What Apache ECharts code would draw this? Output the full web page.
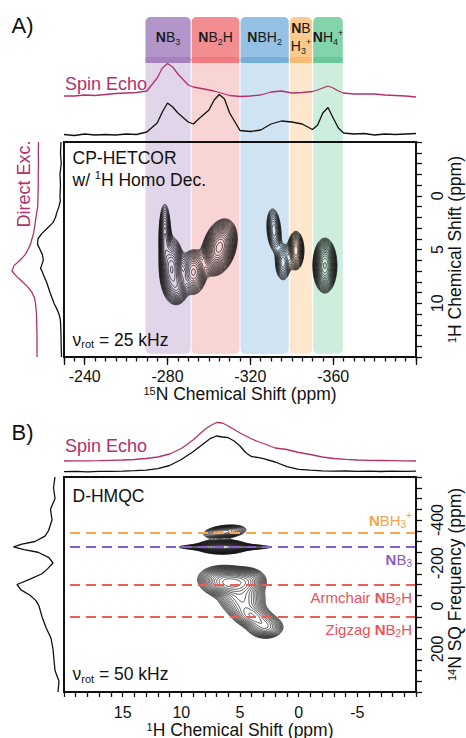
<!DOCTYPE html>
<html>
<head>
<meta charset="utf-8">
<script src="https://cdn.jsdelivr.net/npm/echarts@6.0.0/dist/echarts.min.js"></script>
<style>html,body{margin:0;padding:0;background:#fff;}#chart{width:466px;height:738px;}</style>
</head>
<body>
<div id="chart"></div>
<script>
const FONT = '"Liberation Sans", Arial, Helvetica, sans-serif';
const INK = '#111111';
const MAGENTA = '#b3306f';

// ================= Panel A =================
// top projections (15N ppm)
const aN15Ppm = [-230,-235,-240,-245,-250,-255,-260,-265,-270,-275,-277.5,-280,-282.5,-285,-290,-292.5,-295,-300,-302.5,-305,-307.5,-310,-315,-320,-325,-330,-335,-340,-345,-350,-352.5,-355,-357.5,-360,-362.5,-365,-370,-375,-380,-385,-390,-395,-400];
const aSpinEcho = [1,1,2,1.5,2.5,3.5,4,4.5,6,19,29,33.5,30,23,12,10,9,7,6,4.5,3,1.5,0.5,1,2,5,6,4,4.5,5.5,7,9,11,9,6,4,3,3,3,2,1.5,1,0];
const aCPHetcor = [0.5,-0.5,1,0,0.5,0,1,0.5,3,12,23,32,28,22,13,11,16,25,35,40.5,36,22,4.5,3.5,5,11,14,13,11,5.5,10,22,27.5,17,7,2,1,1.5,0,1,0.5,1,1.5];
// left projections (1H ppm)
const aH1PpmDE = [-5,-4,-3,-2,-1,0,1,2,3,3.5,4,4.5,5,5.5,6,6.5,7,7.5,8,8.5,9,9.5,10,11,12,13,14,15];
const aDirectExc = [0,0.2,0,0.3,0.2,0.5,0.8,2.5,4,5,6.5,8,10.5,13.5,18.5,24.5,26.5,22,16,10.5,6.5,4,3,2,1.8,1.5,1.5,1.5];
const aH1PpmCP = [-5,-4,-3,-2,-1,0,0.5,1,1.5,2,2.5,3,3.5,4,4.5,5,5.5,6,6.5,6.75,7,7.5,8,9,10,10.5,11,11.5,12,13,14,15];
const aCPproj = [0.5,1,0.3,1.5,1,1.5,1.2,2.5,4.5,6,8.5,14,19.5,23.5,24,21.5,19,18.2,20,21,19.5,17.5,15,11.5,7.5,4.8,2.5,1.2,0.8,0.5,0.3,0];
// tick labels
const aN15TickLabels = [-240,-280,-320,-360];
const aH1TickLabels = [0,5,10];
// assignment bands (15N ppm)
const bandLabels = ['{b|N}B{d|3}', '{b|N}B{d|2}H', '{b|N}BH{d|2}', '{b|N}B\nH{d|3}{u|+}', '{b|N}H{d|4}{u|+}'];
const bandFrom = [-269.1, -291.4, -315.0, -338.8, -350.1];
const bandTo   = [-291.4, -315.0, -338.8, -350.1, -364.9];
const bandHead  = ['#b396c9', '#f38e90', '#94c1e4', '#fbcb8f', '#84d4ab'];
const bandLip   = ['#a482bf', '#f07b7e', '#77afdb', '#f8bb75', '#66c996'];
const bandLight = ['#e1d5ea', '#f9d4d4', '#d0e3f2', '#fde7cd', '#cdeedc'];
// 2D correlation peaks (15N ppm, 1H ppm)
const aPkN   = [-282, -278.7, -285, -305, -292.5, -331.4, -335.8, -342, -356];
const aPkH   = [6.8, 3.8, 8.6, 4.8, 7.1, 3.2, 6.2, 5.1, 6.5];
const aPkWN  = [2.6, 1.5, 2.4, 3.6, 3.0, 1.9, 2.0, 1.85, 2.5];
const aPkWH  = [1.3, 1.6, 0.75, 1.1, 1.0, 1.1, 0.9, 0.85, 1.1];
const aPkAmp = [0.75, 0.35, 0.35, 1.1, 0.5, 0.3, 0.3, 0.55, 0.9];
const aPkRho = [0, 0, 0, 0.3, 0, -0.2, 0, 0, 0];

// ================= Panel B =================
const bH1Ppm = [20,19,18,17,16,15,14,13,12,11,10,9,8,7.5,7,6.5,6,5.5,5,4.5,4,3.5,3,2,1,0,-1,-2,-3,-4,-5,-6,-7,-8,-9,-10];
const bSpinEcho = [0,0.1,0.2,0.4,0.7,1,1.5,2.5,4,7,12.5,21,31.5,35.5,38.5,38,35,31.5,28,25,22,19.5,17.5,13,11.5,8.5,6.5,4,2.5,1.7,1,0.7,0.5,0.3,0.1,0];
const bDHMQC = [0,0.3,-0.2,0.4,0.3,0.6,1,1.5,3,6.2,12.2,20,29,33.4,35.7,34.7,34,30.7,25.7,19,15,14.3,13,9.7,5,2.4,1.5,0.8,0.5,0.7,0.3,0.6,0.2,0.5,0.3,0.5];
const bN14Ppm = [-600,-550,-500,-450,-400,-350,-325,-300,-287.5,-275,-262.5,-250,-225,-200,-175,-150,-125,-100,-75,-50,-25,0,25,50,100,150,200,250,300,350,400];
const bN14Proj = [3,4.5,3,7.5,6,9.5,13,23,36,44.5,34,20,9,5,10,16,28,41,37,28,22,19,17.5,16,12,7,5,4,3,-1,0];
const bH1TickLabels = [15,10,5,0,-5];
const bN14TickLabels = [-400,-200,0,200];
// reference lines (14N ppm)
const bLineN14 = [-340, -275, -100, 50];
const bLineText = ['{b|N}BH{d|3}{u|+}', '{b|N}B{d|3}', 'Armchair {b|N}B{d|2}H', 'Zigzag {b|N}B{d|2}H'];
const bLineColor = ['#f7a84c', '#8d5cc4', '#ef5a5f', '#ef5a5f'];
const bLineTextColor = ['#f6a548', '#8d5cc4', '#ef4f5a', '#ef4f5a'];
// x axis is reversed, so the right-hand end of each line is its "start"
const bLineSide = ['insideStartTop', 'insideStartBottom', 'insideStartBottom', 'insideStartBottom'];
// 2D peaks (1H ppm, 14N ppm)
const bPkH   = [6.3, 6.3, 6.5, 6.0, 4.3, 4.8, 4.0, 2.8];
const bPkN   = [-345, -274, -275, -110, -120, -30, 45, 100];
const bPkWH  = [0.9, 2.0, 1.0, 1.15, 0.8, 1.0, 0.9, 0.8];
const bPkWN  = [16, 7, 15, 35, 30, 35, 32, 28];
const bPkAmp = [0.45, 0.4, 0.8, 0.8, 0.3, 0.35, 0.45, 0.3];
const bPkRho = [0.3, 0, 0, -0.15, 0, 0, -0.3, 0];

// contour level settings
const contourBase = 0.06, contourRatio = 1.16, contourCount = 20;

// ---------- helpers ----------
const levels = [];
for (let k = 0; k < contourCount; k++) levels.push(contourBase * Math.pow(contourRatio, k));

function fieldAt(x, y, cx, cy, wx, wy, amp, rho) {
  let f = 0;
  for (let k = 0; k < cx.length; k++) {
    const u = (x - cx[k]) / wx[k], v = (y - cy[k]) / wy[k], r = rho[k];
    f += amp[k] * Math.exp(-(u * u - 2 * r * u * v + v * v) / (2 * (1 - r * r)));
  }
  return f;
}
function marching(xs, ys, F, level) {
  const segs = [];
  const push = (p, q) => segs.push([p[0], p[1], q[0], q[1]]);
  for (let j = 0; j < ys.length - 1; j++) {
    for (let i = 0; i < xs.length - 1; i++) {
      const a = F[j][i], b = F[j][i + 1], c = F[j + 1][i + 1], d = F[j + 1][i];
      const idx = (a > level ? 8 : 0) | (b > level ? 4 : 0) | (c > level ? 2 : 0) | (d > level ? 1 : 0);
      if (idx === 0 || idx === 15) continue;
      const x0 = xs[i], x1 = xs[i + 1], y0 = ys[j], y1 = ys[j + 1];
      const top = () => [x0 + (x1 - x0) * (level - a) / (b - a), y0];
      const right = () => [x1, y0 + (y1 - y0) * (level - b) / (c - b)];
      const bottom = () => [x0 + (x1 - x0) * (level - d) / (c - d), y1];
      const left = () => [x0, y0 + (y1 - y0) * (level - a) / (d - a)];
      switch (idx) {
        case 1: case 14: push(left(), bottom()); break;
        case 2: case 13: push(bottom(), right()); break;
        case 3: case 12: push(left(), right()); break;
        case 4: case 11: push(top(), right()); break;
        case 5: push(left(), top()); push(bottom(), right()); break;
        case 6: case 9: push(top(), bottom()); break;
        case 7: case 8: push(left(), top()); break;
        case 10: push(left(), bottom()); push(top(), right()); break;
      }
    }
  }
  return segs;
}
function buildContours(x0, x1, nx, y0, y1, ny, cx, cy, wx, wy, amp, rho) {
  const xs = [], ys = [];
  for (let i = 0; i < nx; i++) xs.push(x0 + (x1 - x0) * i / (nx - 1));
  for (let j = 0; j < ny; j++) ys.push(y0 + (y1 - y0) * j / (ny - 1));
  const F = ys.map(y => xs.map(x => fieldAt(x, y, cx, cy, wx, wy, amp, rho)));
  return levels.map(l => marching(xs, ys, F, l));
}
const contA = buildContours(-262, -372, 276, -1, 12.5, 170, aPkN, aPkH, aPkWN, aPkWH, aPkAmp, aPkRho);
const contB = buildContours(0, 12, 241, -440, 240, 341, bPkH, bPkN, bPkWH, bPkWN, bPkAmp, bPkRho);

function contourRender(segsByLevel) {
  return function (params, api) {
    const segs = segsByLevel[params.dataIndex];
    if (!segs.length) return {type: 'group', children: []};
    const parts = [];
    for (const s of segs) {
      const p = api.coord([s[0], s[1]]), q = api.coord([s[2], s[3]]);
      parts.push('M' + p[0].toFixed(2) + ' ' + p[1].toFixed(2) + 'L' + q[0].toFixed(2) + ' ' + q[1].toFixed(2));
    }
    return {type: 'path', silent: true, shape: {pathData: parts.join('')},
            style: {stroke: INK, fill: 'none', lineWidth: 0.75}};
  };
}

const HEAD_TOP = 1, LIP_TOP = 0.882, HEAD_BOTTOM = 0.865, BAND_BOTTOM = 0.009;
const richSmall = (color, base) => ({
  b: {fontWeight: 'bold', fontSize: base, lineHeight: base + 4, fontFamily: FONT, fill: color, color: color},
  d: {fontSize: Math.round(base * 0.64), lineHeight: Math.round(base * 0.64), verticalAlign: 'bottom', fontFamily: FONT, fill: color, color: color},
  u: {fontSize: Math.round(base * 0.64), lineHeight: Math.round(base * 0.64), verticalAlign: 'top', fontFamily: FONT, fill: color, color: color}
});
function renderBand(params, api) {
  const i = params.dataIndex;
  const a = api.coord([api.value(0), HEAD_TOP]);
  const b = api.coord([api.value(1), 0]);
  const hb = api.coord([api.value(0), HEAD_BOTTOM])[1];
  const lt = api.coord([api.value(0), LIP_TOP])[1];
  const bb = api.coord([api.value(0), BAND_BOTTOM])[1];
  const x = a[0] + 0.5, w = b[0] - a[0] - 1, top = a[1];
  return {type: 'group', children: [
    {type: 'rect', shape: {x: x, y: hb, width: w, height: bb - hb, r: [0, 0, 5, 5]}, style: {fill: bandLight[i]}},
    {type: 'rect', shape: {x: x, y: top, width: w, height: hb - top, r: [5, 5, 0, 0]}, style: {fill: bandHead[i]}},
    {type: 'rect', shape: {x: x, y: lt, width: w, height: hb - lt, r: 3}, style: {fill: bandLip[i]}},
    {type: 'text', x: x + w / 2, y: (top + lt) / 2, style: {
      text: bandLabels[i], align: 'center', verticalAlign: 'middle',
      fontSize: 14, lineHeight: 18, fontFamily: FONT, fill: '#1a1a1a',
      rich: richSmall('#1a1a1a', 14)
    }}
  ]};
}

// ---------- axes ----------
const hiddenAxis = (gi, min, max, inverse) => ({type: 'value', gridIndex: gi, min: min, max: max, inverse: !!inverse, show: false});
const nameStyle = {fontFamily: FONT, fontSize: 17.5, color: INK, lineHeight: 17,
  rich: {s: {fontSize: 11, lineHeight: 11, verticalAlign: 'top', fontFamily: FONT, color: INK}}};
const tickLabel = (list, margin, rotate) => ({show: true, margin: margin, rotate: rotate || 0, color: INK, fontSize: 16, lineHeight: 16, fontFamily: FONT,
  formatter: v => (list.indexOf(Math.round(v * 1000) / 1000) >= 0 ? String(v) : '')});
const axLine = {show: true, onZero: false, lineStyle: {color: INK, width: 2}};

const xAxis = [
  {type: 'value', gridIndex: 0, min: -400, max: -230, inverse: true, interval: 5, position: 'bottom',
   axisLine: axLine, axisTick: {show: true, length: 4.5, lineStyle: {color: INK, width: 1.3}},
   axisLabel: tickLabel(aN15TickLabels, 11.5), splitLine: {show: false},
   name: '{s|15}N Chemical Shift (ppm)', nameLocation: 'middle', nameGap: 28, nameMoveOverlap: false, nameTextStyle: nameStyle},
  {type: 'value', gridIndex: 0, min: -400, max: -230, inverse: true, interval: 40, position: 'bottom',
   axisLine: {show: false, onZero: false}, axisTick: {show: true, length: 8, lineStyle: {color: INK, width: 1.3}},
   axisLabel: {show: false}, splitLine: {show: false}},
  hiddenAxis(1, -400, -230, true),
  hiddenAxis(2, -400, -230, true),
  hiddenAxis(3, -400, -230, true),
  hiddenAxis(4, 0, 30, true),
  hiddenAxis(5, 0, 40, true),
  {type: 'value', gridIndex: 6, min: -10, max: 20, inverse: true, interval: 1, position: 'bottom',
   axisLine: axLine, axisTick: {show: true, length: 5, lineStyle: {color: INK, width: 1.3}},
   axisLabel: tickLabel(bH1TickLabels, 12.5), splitLine: {show: false},
   name: '{s|1}H Chemical Shift (ppm)', nameLocation: 'middle', nameGap: 29, nameMoveOverlap: false, nameTextStyle: nameStyle},
  hiddenAxis(7, -10, 20, true),
  hiddenAxis(8, -10, 20, true),
  hiddenAxis(9, 0, 50, true)
];
const yAxis = [
  {type: 'value', gridIndex: 0, min: -5, max: 15, inverse: true, interval: 1, position: 'right',
   axisLine: axLine, axisTick: {show: true, length: 6, lineStyle: {color: INK, width: 1.3}},
   axisLabel: tickLabel(aH1TickLabels, 13.5, 90), splitLine: {show: false},
   name: '{s|1}H Chemical Shift (ppm)', nameLocation: 'middle', nameRotate: 90, nameGap: 30, nameMoveOverlap: false, nameTextStyle: nameStyle},
  hiddenAxis(1, 0, 1, false),
  hiddenAxis(2, 0, 40, false),
  hiddenAxis(3, 0, 40, false),
  hiddenAxis(4, -5, 15, true),
  hiddenAxis(5, -5, 15, true),
  {type: 'value', gridIndex: 6, min: -600, max: 400, inverse: true, interval: 50, position: 'right',
   axisLine: axLine, axisTick: {show: true, length: 6, lineStyle: {color: INK, width: 1.3}},
   axisLabel: tickLabel(bN14TickLabels, 13.5, 90), splitLine: {show: false},
   name: '{s|14}N SQ Frequency (ppm)', nameLocation: 'middle', nameRotate: 90, nameGap: 30, nameMoveOverlap: false, nameTextStyle: nameStyle},
  hiddenAxis(7, 0, 40, false),
  hiddenAxis(8, 0, 40, false),
  hiddenAxis(9, -600, 400, true)
];

const grid = [
  {left: 64, top: 142, width: 352, height: 215, show: true, borderColor: INK, borderWidth: 2, z: 10, backgroundColor: 'transparent'},
  {left: 64, top: 17, width: 352, height: 340},
  {left: 64, top: 57, width: 352, height: 40},
  {left: 64, top: 95, width: 352, height: 40},
  {left: 8.5, top: 142, width: 30, height: 215},
  {left: 21.5, top: 142, width: 40, height: 215},
  {left: 64, top: 477, width: 352, height: 215, show: true, borderColor: INK, borderWidth: 2, z: 10, backgroundColor: 'transparent'},
  {left: 64, top: 421, width: 352, height: 40},
  {left: 64, top: 431.7, width: 352, height: 40},
  {left: 8, top: 477, width: 50, height: 215}
].map(g => Object.assign({containLabel: false, outerBoundsMode: 'none'}, g));

const trace = (xi, yi, data, color) => ({type: 'line', xAxisIndex: xi, yAxisIndex: yi, data: data,
  showSymbol: false, symbol: 'none', clip: false, silent: true, z: 3,
  lineStyle: {color: color, width: 1.3}});
const zip = (a, b) => a.map((v, i) => [v, b[i]]);

const series = [
  {type: 'custom', xAxisIndex: 2, yAxisIndex: 1, z: 1, silent: true,
   data: bandFrom.map((f, i) => [f, bandTo[i]]), renderItem: renderBand},
  trace(3, 2, zip(aN15Ppm, aSpinEcho), MAGENTA),
  trace(4, 3, zip(aN15Ppm, aCPHetcor), INK),
  trace(5, 4, zip(aDirectExc, aH1PpmDE), MAGENTA),
  trace(6, 5, zip(aCPproj, aH1PpmCP), INK),
  {type: 'custom', xAxisIndex: 0, yAxisIndex: 0, z: 4, silent: true,
   data: levels.map((l, k) => [k, 0]), renderItem: contourRender(contA)},
  trace(8, 7, zip(bH1Ppm, bSpinEcho), MAGENTA),
  trace(9, 8, zip(bH1Ppm, bDHMQC), INK),
  trace(10, 9, zip(bN14Proj, bN14Ppm), INK),
  {type: 'custom', xAxisIndex: 7, yAxisIndex: 6, z: 4, silent: true,
   data: levels.map((l, k) => [k, 0]), renderItem: contourRender(contB)},
  {type: 'line', xAxisIndex: 7, yAxisIndex: 6, data: [], silent: true, z: 6,
   markLine: {silent: true, symbol: ['none', 'none'], animation: false,
     data: bLineN14.map((v, i) => ({
       yAxis: v,
       lineStyle: {color: bLineColor[i], width: 2, type: [10, 6]},
       label: {show: true, position: bLineSide[i], distance: [4, 3], formatter: bLineText[i],
         color: bLineTextColor[i], fontSize: 15, lineHeight: 18, fontFamily: FONT,
         rich: richSmall(bLineTextColor[i], 15)}
     }))}}
];

const txt = (x, y, text, size, color, extra) => Object.assign({type: 'text', x: x, y: y, z: 100, silent: true,
  style: {text: text, fontSize: size, lineHeight: size + 3, fontFamily: FONT, fill: color, verticalAlign: 'middle', align: 'left',
    rich: {
      s: {fontSize: 11, lineHeight: 11, verticalAlign: 'top', fontFamily: FONT, fill: color},
      r: {fontSize: 11, lineHeight: 11, verticalAlign: 'bottom', fontFamily: FONT, fill: color}
    }}}, extra || {});

const graphicEls = [
  txt(11.5, 25, 'A)', 22, INK),
  txt(11.5, 432.5, 'B)', 22, INK),
  txt(65, 84, 'Spin Echo', 18, MAGENTA),
  txt(65, 445.5, 'Spin Echo', 18, MAGENTA),
  txt(23.5, 184, 'Direct Exc.', 18, MAGENTA, {rotation: Math.PI / 2}),
  txt(72.5, 157.5, 'CP-HETCOR', 17.5, INK),
  txt(72.5, 179.5, 'w/ {s|1}H Homo Dec.', 17.5, INK),
  txt(72.5, 339.5, 'ν{r|rot} = 25 kHz', 17.5, INK),
  txt(72.5, 495.5, 'D-HMQC', 17.5, INK),
  txt(72.5, 674, 'ν{r|rot} = 50 kHz', 17.5, INK)
];
graphicEls[4].style.align = 'center';

const option = {
  animation: false,
  backgroundColor: '#ffffff',
  textStyle: {fontFamily: FONT},
  grid: grid,
  xAxis: xAxis,
  yAxis: yAxis,
  series: series,
  graphic: {elements: graphicEls}
};

const chart = echarts.init(document.getElementById('chart'), null, {renderer: 'svg', width: 466, height: 738});
chart.setOption(option);
</script>
</body>
</html>
